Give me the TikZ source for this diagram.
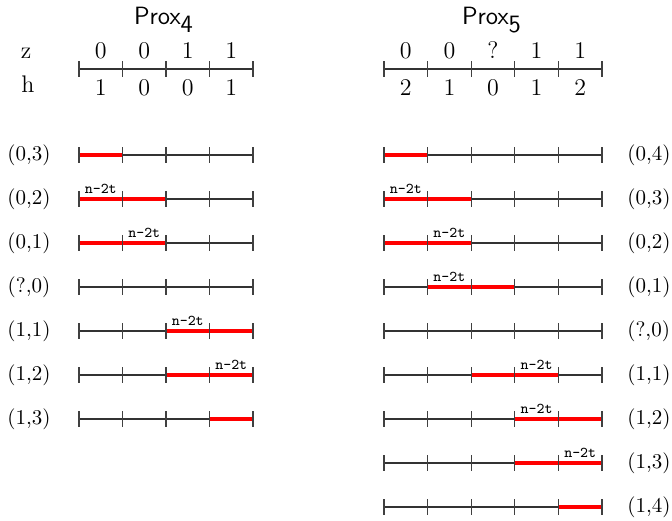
\documentclass[tikz,border=0pt]{standalone}
\begin{document}
\begin{tikzpicture}[x=0.5pt,y=-0.5pt,
  axis/.style={draw=black!80, line width=0.55pt},
  tk/.style={draw=black!75, line width=0.55pt},
  hl/.style={draw=red, line width=2pt},
  rowlab/.style={font=\fontsize{10.5}{12}\selectfont, inner sep=0pt},
  num/.style={font=\fontsize{12}{14}\selectfont, anchor=base, inner sep=0pt},
  lbl/.style={font=\ttfamily\fontsize{7.5}{8}\selectfont, anchor=base, inner sep=0pt},
  ttl/.style={font=\sffamily\fontsize{12.5}{14}\selectfont, anchor=base, inner sep=0pt}]
\useasboundingbox (0,0) rectangle (672,520);
\def\stpL{43.5}
\def\stpR{43.6}
% titles
\node[ttl] (t4) at (164,24) {Prox$_{\textsf{4}}$};
\node[ttl] (t5) at (492,24) {Prox$_{\textsf{5}}$};
% z / h
\node[num] (zl) at (26,58) {z};
\node[num] (hl) at (28,92) {h};
% header rulers
\draw[axis] (79,69) coordinate (hLs) -- ({79+4*\stpL},69) coordinate (hLe);
\foreach \k in {0,...,4} \draw[tk] ({79+\k*\stpL},61) -- ({79+\k*\stpL},77);
\foreach \k/\z/\h in {0/0/1,1/0/0,2/1/0,3/1/1} {
  \node[num] (zL\k) at ({79+(\k+0.5)*\stpL},58) {\z};
  \node[num] (hL\k) at ({79+(\k+0.5)*\stpL},95) {\h};
}
\draw[axis] (384,69) coordinate (hRs) -- ({384+5*\stpR},69) coordinate (hRe);
\foreach \k in {0,...,5} \draw[tk] ({384+\k*\stpR},61) -- ({384+\k*\stpR},77);
\foreach \k/\z/\h in {0/0/2,1/0/1,2/?/0,3/1/1,4/1/2} {
  \node[num] (zR\k) at ({384+(\k+0.5)*\stpR},58) {\z};
  \node[num] (hR\k) at ({384+(\k+0.5)*\stpR},95) {\h};
}
% left rows
\foreach \y/\t/\a/\b/\c [count=\r] in {155/{(0,3)}/0/1/-1, 199/{(0,2)}/0/2/0, 243/{(0,1)}/0/2/1, 287/{(?,0)}/0/0/-1, 331/{(1,1)}/2/4/2, 375/{(1,2)}/2/4/3, 419/{(1,3)}/3/4/-1} {
  \node[rowlab] (lL\r) at (29,\y) {\t};
  \draw[axis] (79,\y) -- ({79+4*\stpL},\y);
  \ifnum\a<\b
    \draw[hl] ({79+\a*\stpL},\y) -- ({79+\b*\stpL},\y);
  \fi
  \foreach \k in {0,...,4} \draw[tk] ({79+\k*\stpL},\y-8) -- ({79+\k*\stpL},\y+8);
  \ifnum\c>-1
    \node[lbl] (nL\r) at ({79+(\c+0.5)*\stpL},\y-6) {n-2t};
  \fi
}
% right rows
\foreach \y/\t/\a/\b/\c [count=\r] in {155/{(0,4)}/0/1/-1, 199/{(0,3)}/0/2/0, 243/{(0,2)}/0/2/1, 287/{(0,1)}/1/3/1, 331/{(?,0)}/0/0/-1, 375/{(1,1)}/2/4/3, 419/{(1,2)}/3/5/3, 463/{(1,3)}/3/5/4, 507/{(1,4)}/4/5/-1} {
  \node[rowlab, anchor=west] (lR\r) at (627,\y) {\t};
  \draw[axis] (384,\y) -- ({384+5*\stpR},\y);
  \ifnum\a<\b
    \draw[hl] ({384+\a*\stpR},\y) -- ({384+\b*\stpR},\y);
  \fi
  \foreach \k in {0,...,5} \draw[tk] ({384+\k*\stpR},\y-8) -- ({384+\k*\stpR},\y+8);
  \ifnum\c>-1
    \node[lbl] (nR\r) at ({384+(\c+0.5)*\stpR},\y-6) {n-2t};
  \fi
}
\end{tikzpicture}
\end{document}
